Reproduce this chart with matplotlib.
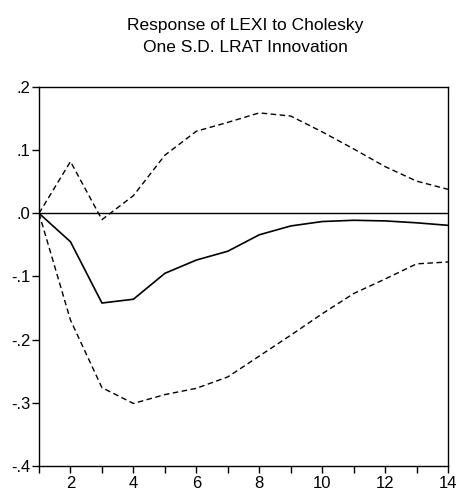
import matplotlib
matplotlib.use("Agg")
import matplotlib.pyplot as plt

periods = list(range(1, 15))
response = [0.0, -0.045, -0.142, -0.136, -0.095, -0.074, -0.060, -0.034,
            -0.020, -0.013, -0.011, -0.012, -0.015, -0.019]
upper = [0.0, 0.082, -0.010, 0.028, 0.092, 0.130, 0.144, 0.159,
         0.154, 0.129, 0.102, 0.074, 0.051, 0.038]
lower = [0.0, -0.169, -0.276, -0.301, -0.287, -0.277, -0.259, -0.226,
         -0.193, -0.159, -0.127, -0.104, -0.080, -0.077]
yticks = [-0.4, -0.3, -0.2, -0.1, 0.0, 0.1, 0.2]
ytick_labels = ["-.4", "-.3", "-.2", "-.1", ".0", ".1", ".2"]
xticks = [2, 4, 6, 8, 10, 12, 14]

plt.rcParams['font.family'] = ['Liberation Sans Narrow', 'Liberation Sans', 'DejaVu Sans']

fig = plt.figure(figsize=(4.58, 4.96), dpi=100)
ax = fig.add_axes([0.0852, 0.0605, 0.8930, 0.7641])

ax.axhline(0, color="black", lw=1.0)
ax.plot(periods, response, color="black", lw=1.2)
ax.plot(periods, upper, color="black", lw=1.0, ls=(0, (4, 2.5)))
ax.plot(periods, lower, color="black", lw=1.0, ls=(0, (4, 2.5)))

ax.set_xlim(1, 14)
ax.set_ylim(-0.4, 0.2)
ax.set_xticks(periods, minor=True)
ax.set_xticks(xticks)
ax.set_yticks(yticks)
ax.set_yticklabels(ytick_labels)
ax.tick_params(axis="both", which="both", direction="out", labelsize=12,
               length=5, width=1, color="black")
ax.tick_params(axis="x", pad=2)
ax.tick_params(axis="y", pad=1)
for s in ax.spines.values():
    s.set_linewidth(1.0)

fig.text(0.535, 0.948, "Response of LEXI to Cholesky", ha="center", va="center", fontsize=12.5)
fig.text(0.535, 0.904, "One S.D. LRAT Innovation", ha="center", va="center", fontsize=12.5)

fig.savefig("out.png", dpi=100)
